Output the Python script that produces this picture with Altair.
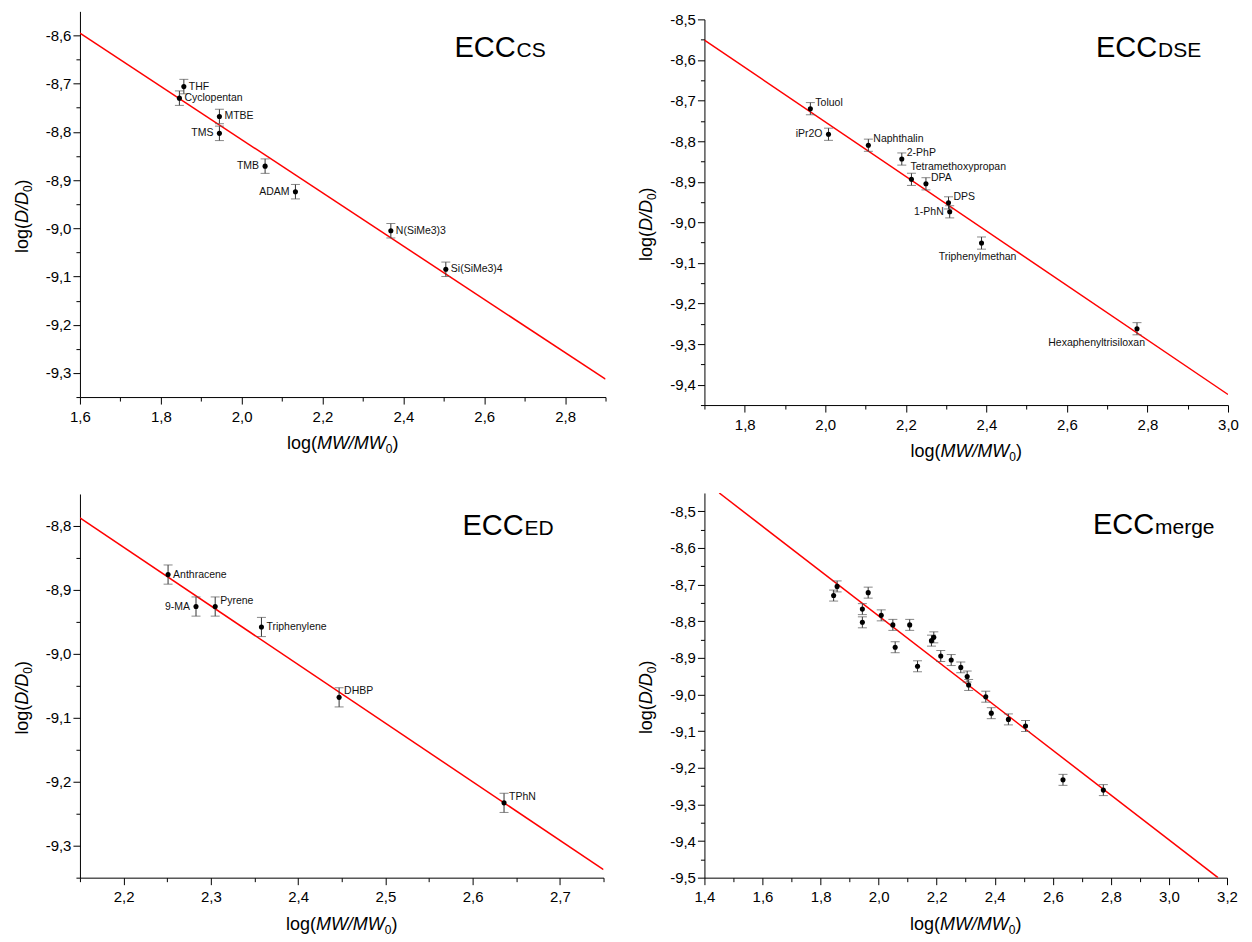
import altair as alt
import pandas as pd

FONT = "Liberation Sans"

# ---------------- data ----------------
cs_names = ["THF", "Cyclopentan", "MTBE", "TMS", "TMB", "ADAM", "N(SiMe3)3", "Si(SiMe3)4"]
cs_x = [1.857, 1.846, 1.945, 1.945, 2.058, 2.133, 2.369, 2.505]
cs_y = [-8.706, -8.730, -8.768, -8.803, -8.871, -8.924, -9.005, -9.085]
cs_err = [0.015, 0.015, 0.015, 0.015, 0.015, 0.015, 0.015, 0.015]
cs_pos = ["r", "r", "r", "l", "l", "l", "r", "r"]
cs_fit_x = [1.6, 2.9]
cs_fit_y = [-8.595, -9.313]

dse_names = ["Toluol", "iPr2O", "Naphthalin", "2-PhP", "Tetramethoxypropan", "DPA",
             "DPS", "1-PhN", "Triphenylmethan", "Hexaphenyltrisiloxan"]
dse_x = [1.963, 2.008, 2.107, 2.190, 2.214, 2.250, 2.306, 2.309, 2.388, 2.774]
dse_y = [-8.720, -8.783, -8.810, -8.844, -8.894, -8.905, -8.952, -8.974, -9.051, -9.262]
dse_err = [0.015, 0.015, 0.015, 0.015, 0.015, 0.015, 0.015, 0.015, 0.015, 0.015]
dse_pos = ["ur", "l", "ur", "ur", "u", "ur", "ur", "l", "b", "bl"]
dse_fit_x = [1.7, 3.0]
dse_fit_y = [-8.551, -9.424]

ed_names = ["Anthracene", "9-MA", "Pyrene", "Triphenylene", "DHBP", "TPhN"]
ed_x = [2.251, 2.283, 2.305, 2.358, 2.447, 2.636]
ed_y = [-8.876, -8.926, -8.926, -8.958, -9.068, -9.233]
ed_err = [0.015, 0.015, 0.015, 0.015, 0.015, 0.015]
ed_pos = ["r", "l", "ur", "r", "ur", "ur"]
ed_fit_x = [2.15, 2.75]
ed_fit_y = [-8.7875, -9.3375]

merge_x = [1.845, 1.857, 1.944, 1.944, 1.964, 2.009, 2.049, 2.057, 2.107, 2.134, 2.182, 2.190,
           2.214, 2.250, 2.283, 2.305, 2.310, 2.369, 2.388, 2.447, 2.506, 2.635, 2.774]
merge_y = [-8.730, -8.705, -8.767, -8.803, -8.722, -8.784, -8.810, -8.871, -8.810, -8.923,
           -8.853, -8.844, -8.895, -8.906, -8.926, -8.951, -8.974, -9.006, -9.051, -9.068,
           -9.086, -9.233, -9.261]
merge_err = [0.015] * 23
merge_fit_x = [1.451, 3.169]
merge_fit_y = [-8.45, -9.5]

# tick values (no tick at the open top end of the minor-ended y axes)
cs_xticks = [round(v / 10, 2) for v in range(16, 30)]
cs_yticks = [round(-v / 100, 2) for v in range(860, 940, 5)]
dse_xticks = [round(v / 10, 2) for v in range(17, 31)]
dse_yticks = [round(-v / 100, 2) for v in range(850, 950, 5)]
ed_xticks = [round(v / 100, 2) for v in range(215, 280, 5)]
ed_yticks = [round(-v / 100, 2) for v in range(880, 940, 5)]
mg_xticks = [round(v / 10, 2) for v in range(14, 33)]
mg_yticks = [round(-v / 100, 2) for v in range(850, 955, 5)]

LABEL_STYLE = {
    "r": dict(align="left", dx=5, dy=0),
    "l": dict(align="right", dx=-6, dy=0),
    "ur": dict(align="left", dx=5, dy=-6),
    "u": dict(align="left", dx=-1, dy=-12),
    "b": dict(align="center", dx=-4, dy=14),
    "bl": dict(align="right", dx=8, dy=14),
}

one = pd.DataFrame({"k": [0]})

MAJ10 = "round(datum.value*10) % 2 == 0"
MAJ20 = "round(datum.value*20) % 2 == 0"


def mk_axis(values, major, pad):
    return alt.Axis(
        values=values,
        labelExpr=f"{major} ? replace(replace(format(datum.value, '.1f'), '.', ','), '\u2212', '-') : ''",
        tickSize={"condition": {"test": major, "value": 7}, "value": 4},
        grid=False, title=None, labelOverlap=False, labelFlush=False,
        labelPadding=pad, domainColor="black", tickColor="black", labelColor="black",
        labelFont=FONT, labelFontSize=15, domainWidth=1, tickWidth=1,
    )


def txt(text, x, y, size, style="normal", align="left", angle=0):
    return alt.Chart(one).mark_text(
        text=text, fontSize=size, fontStyle=style, align=align, baseline="alphabetic",
        angle=angle, font=FONT, color="black"
    ).encode(x=alt.value(x), y=alt.value(y))


def titles(w, h):
    F, S = 18, 12
    layers = []
    # x title: log(MW/MW0)
    segs = [("log(", "normal", F, 1.667, 0), ("MW/MW", "italic", F, 3.832, 0),
            ("0", "normal", S, 0.556, 4), (")", "normal", F, 0.333, 0)]
    total = sum(s[2] * s[3] for s in segs)
    cx = w / 2 - total / 2
    by = h + 52
    for t, st, sz, em, sh in segs:
        layers.append(txt(t, cx, by + sh, sz, st))
        cx += sz * em
    # y title: log(D/D0)
    segs = [("log(", "normal", F, 1.667, 0), ("D/D", "italic", F, 1.722, 0),
            ("0", "normal", S, 0.556, 4), (")", "normal", F, 0.333, 0)]
    total = sum(s[2] * s[3] for s in segs)
    cy = h / 2 + 12 + total / 2
    bx = -52
    for t, st, sz, em, sh in segs:
        layers.append(txt(t, bx + sh, cy, sz, st, angle=270))
        cy -= sz * em
    return layers


def panel(xs, ys, errs, fx, fy, xdom, ydom, xt, yt, xmaj, w, h, sub, jx, jy,
          names=None, pos=None):
    d = {"x": xs, "y": ys, "err": errs}
    if names is not None:
        d["name"] = names
        d["pos"] = pos
    df = pd.DataFrame(d)
    df["lo"] = df["y"] - df["err"]
    df["hi"] = df["y"] + df["err"]
    fit = pd.DataFrame({"x": fx, "y": fy})

    xsc = alt.Scale(domain=xdom, nice=False, zero=False)
    ysc = alt.Scale(domain=ydom, nice=False, zero=False)
    xax = mk_axis(xt, xmaj, 5)
    yax = mk_axis(yt, MAJ20, 2)
    X = alt.X("x:Q", scale=xsc, axis=xax)
    Y = alt.Y("y:Q", scale=ysc, axis=yax)

    base = alt.Chart(df)
    line = alt.Chart(fit).mark_line(color="#ff0000", strokeWidth=1.5, clip=True).encode(x=X, y=Y)
    bars = base.mark_rule(color="#333333", strokeWidth=1).encode(
        x=X, y=alt.Y("lo:Q", scale=ysc, axis=yax), y2="hi:Q")
    cap_lo = base.mark_tick(orient="horizontal", size=9, thickness=1, color="#555555").encode(
        x=X, y=alt.Y("lo:Q", scale=ysc, axis=yax))
    cap_hi = base.mark_tick(orient="horizontal", size=9, thickness=1, color="#555555").encode(
        x=X, y=alt.Y("hi:Q", scale=ysc, axis=yax))
    pts = base.mark_circle(size=26, color="black", opacity=1).encode(x=X, y=Y)

    layers = [line, bars, cap_lo, cap_hi, pts]
    if names is not None:
        for code in sorted(set(pos)):
            st = LABEL_STYLE[code]
            layers.append(
                base.transform_filter(alt.datum.pos == code).mark_text(
                    font=FONT, fontSize=10.5, color="#111111", baseline="middle",
                    align=st["align"], dx=st["dx"], dy=st["dy"]
                ).encode(x=X, y=Y, text="name:N")
            )
    layers.append(txt("ECC", jx, jy, 29, align="right"))
    layers.append(txt(sub, jx + 1, jy, 21, align="left"))
    layers += titles(w, h)
    return alt.layer(*layers).properties(width=w, height=h)


p1 = panel(cs_x, cs_y, cs_err, cs_fit_x, cs_fit_y, [1.6, 2.9], [-9.35, -8.55],
           cs_xticks, cs_yticks, MAJ10, 526, 386, "CS", 436, 46, cs_names, cs_pos)
p2 = panel(dse_x, dse_y, dse_err, dse_fit_x, dse_fit_y, [1.7, 3.0], [-9.45, -8.5],
           dse_xticks, dse_yticks, MAJ10, 524, 386, "DSE", 453, 38, dse_names, dse_pos)
p3 = panel(ed_x, ed_y, ed_err, ed_fit_x, ed_fit_y, [2.15, 2.75], [-9.35, -8.75],
           ed_xticks, ed_yticks, MAJ20, 524, 384, "ED", 444, 41, ed_names, ed_pos)
p4 = panel(merge_x, merge_y, merge_err, merge_fit_x, merge_fit_y, [1.4, 3.2], [-9.5, -8.45],
           mg_xticks, mg_yticks, MAJ10, 523, 385, "merge", 450, 41)

# invisible 1px spacer so that the right column starts a little lower (as in the original)
spacer = alt.Chart(one).mark_rect(opacity=0).encode(
    x=alt.value(0), x2=alt.value(1), y=alt.value(0), y2=alt.value(1)
).properties(width=1, height=1)

chart = alt.hconcat(
    alt.vconcat(p1, p3, spacing=39),
    alt.vconcat(alt.vconcat(spacer, p2, spacing=0), p4, spacing=30),
    spacing=31,
).configure_view(stroke=None).properties(
    padding={"left": 5, "top": 3, "right": 5, "bottom": 0}
)

chart.save("out.html", embed_options={"renderer": "svg", "actions": False})
